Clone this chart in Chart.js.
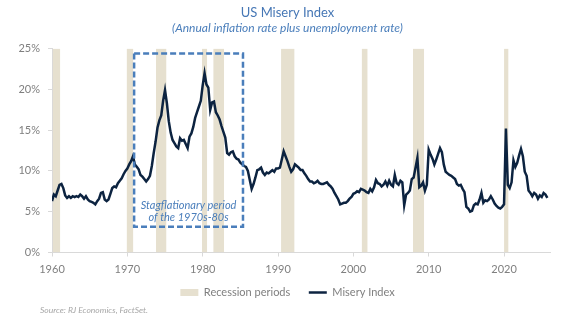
<!DOCTYPE html>
<html>
<head>
<meta charset="utf-8">
<script src="https://cdn.jsdelivr.net/npm/chart.js@4.4.1/dist/chart.umd.min.js"></script>
<style>
  html, body { margin: 0; padding: 0; background: #ffffff; }
  #wrap { width: 575px; height: 322px; position: relative; }
</style>
</head>
<body>
<div id="wrap"><canvas id="c" width="575" height="322"></canvas></div>
<script>
// ---------------- DATA ----------------
const startYear = 1960;            // first quarter of the series
const periodsPerYear = 4;          // quarterly observations

const misery1960s = [6.3,7.1,6.9,7.6, 8.3,8.4,7.9,7.0, 6.7,6.9,6.7,6.9, 6.8,6.9,6.8,7.1, 6.9,6.6,6.9,6.5,
                     6.3,6.2,6.1,5.9, 6.3,6.6,7.3,7.4, 6.5,6.3,6.5,7.2, 7.9,8.1,8.0,8.5, 8.8,9.1,9.6,10.0];
const misery1970s = [10.3,10.8,11.2,11.8, 10.8,10.5,10.2,9.5, 9.3,9.0,8.7,9.0, 9.4,10.6,12.2,13.6, 15.3,16.2,16.8,18.6,
                     19.9,18.3,16.1,14.7, 13.8,13.4,13.0,12.8, 14.0,13.7,13.8,13.3, 12.8,14.2,14.6,15.4, 16.5,17.2,17.9,18.6];
const misery1980s = [20.5,22.0,20.6,20.2, 17.5,18.4,18.5,17.2, 16.8,16.3,15.5,14.8, 14.1,12.2,12.0,12.3, 12.4,11.8,11.5,11.4,
                     11.0,10.8,10.6,10.5, 10.0,8.9,7.8,8.4, 9.2,10.1,10.2,10.4, 9.8,9.5,9.8,9.7, 9.9,10.1,9.9,10.3];
const misery1990s = [10.3,10.4,11.4,12.4, 11.8,11.2,10.5,9.9, 10.2,10.8,10.6,10.4, 10.1,10.1,9.7,9.4, 9.0,8.7,8.7,8.5,
                     8.6,8.8,8.5,8.4, 8.4,8.5,8.6,8.3, 8.1,7.8,7.3,6.9, 6.5,5.9,6.0,6.1, 6.1,6.3,6.6,6.8];
const misery2000s = [7.2,7.3,7.5,7.4, 7.8,7.7,7.6,7.4, 7.3,7.8,7.5,8.0, 8.9,8.5,8.4,8.1, 8.3,8.7,8.2,8.8,
                     8.3,8.1,9.5,8.5, 8.3,8.8,8.6,5.8, 7.1,7.3,7.6,9.0, 9.2,10.4,11.6,8.0, 8.2,8.6,7.6,8.3];
const misery2010s = [12.6,12.0,11.5,10.8, 11.4,12.1,12.8,12.3, 10.8,9.9,9.7,9.5, 9.4,9.2,9.0,8.4, 8.2,8.3,7.8,7.4,
                     5.6,5.4,5.0,5.1, 5.8,6.0,5.9,6.5, 7.3,6.1,6.4,6.3, 6.5,6.9,6.5,6.0, 5.7,5.5,5.4,5.6];
const misery2020s = [5.9,15.2,8.3,7.9, 8.6,11.3,10.5,11.0, 11.9,12.7,11.8,9.9, 9.4,7.6,7.3,6.9, 7.3,7.1,6.6,7.0,
                     6.8,7.3,7.1,6.7];

const recessionStart = [1960.1, 1969.9, 1973.8, 1979.9, 1981.4, 1990.4, 2001.1, 2007.9, 2020.0];
const recessionEnd   = [1961.1, 1970.8, 1975.2, 1980.6, 1982.85, 1992.2, 2001.9, 2009.4, 2020.6];

const xTickYears = [1960, 1970, 1980, 1990, 2000, 2010, 2020];
const yTickValues = [0, 5, 10, 15, 20, 25];

const stagflationBox = { fromYear: 1970.9, toYear: 1985.35, low: 3.17, high: 24.4 };
const stagflationText = ['Stagflationary period', 'of the 1970s-80s'];

// ---------------- BUILD ----------------
const miseryValues = [].concat(misery1960s, misery1970s, misery1980s, misery1990s, misery2000s, misery2010s, misery2020s);
const miseryPoints = miseryValues.map((v, i) => ({ x: startYear + i / periodsPerYear, y: v }));

const recessionTop = yTickValues[yTickValues.length - 1];
const recessionPoints = [];
recessionStart.forEach((s, i) => {
  recessionPoints.push({ x: s, y: recessionTop });
  recessionPoints.push({ x: recessionEnd[i], y: recessionTop });
  recessionPoints.push({ x: recessionEnd[i], y: null });
});

const FONT = 'Lato, "Open Sans", sans-serif';
const GREY = '#7f7f7f';
const AXIS = '#d9d9d9';
const BLUE = '#4a7ebb';

const boxPlugin = {
  id: 'stagBox',
  afterDatasetsDraw(chart) {
    const { ctx, scales: { x, y } } = chart;
    const x0 = x.getPixelForValue(stagflationBox.fromYear);
    const x1 = x.getPixelForValue(stagflationBox.toYear);
    const y0 = y.getPixelForValue(stagflationBox.high);
    const y1 = y.getPixelForValue(stagflationBox.low);
    ctx.save();
    ctx.strokeStyle = BLUE;
    ctx.lineWidth = 2.5;
    ctx.setLineDash([6, 3]);
    ctx.strokeRect(x0, y0, x1 - x0, y1 - y0);
    ctx.setLineDash([]);
    ctx.fillStyle = BLUE;
    ctx.font = 'italic 11px ' + FONT;
    ctx.textAlign = 'center';
    ctx.textBaseline = 'middle';
    const cx = (x0 + x1) / 2;
    ctx.fillText(stagflationText[0], cx, y1 - 21.5);
    ctx.fillText(stagflationText[1], cx, y1 - 9);
    ctx.restore();
  }
};

const sourcePlugin = {
  id: 'sourceNote',
  afterDraw(chart) {
    const { ctx } = chart;
    ctx.save();
    ctx.fillStyle = '#a6a6a6';
    ctx.font = 'italic 8.5px ' + FONT;
    ctx.textAlign = 'left';
    ctx.textBaseline = 'middle';
    ctx.fillText('Source: RJ Economics, FactSet.', 40, 310);
    ctx.restore();
  }
};

// lift the legend closer to the axis (the legend's own padding also sets the gap between items)
const legendLift = {
  id: 'legendLift',
  afterLayout(chart) {
    const lg = chart.legend;
    if (lg) { lg.top -= 14; lg.bottom -= 14; }
  }
};

new Chart(document.getElementById('c'), {
  type: 'line',
  data: {
    datasets: [
      {
        label: 'Recession periods',
        data: recessionPoints,
        backgroundColor: '#e6e0cf',
        borderColor: '#e6e0cf',
        borderWidth: 0,
        pointRadius: 0,
        pointStyle: 'rect',
        fill: 'origin',
        spanGaps: false,
        order: 2
      },
      {
        label: 'Misery Index',
        data: miseryPoints,
        borderColor: '#0c2340',
        backgroundColor: '#0c2340',
        borderWidth: 2.5,
        pointRadius: 0,
        pointStyle: 'line',
        tension: 0,
        fill: false,
        order: 1
      }
    ]
  },
  options: {
    responsive: false,
    animation: false,
    devicePixelRatio: 1,
    layout: { padding: { left: 0, right: 0, top: 0, bottom: 0 } },
    plugins: {
      title: {
        display: true,
        text: 'US Misery Index',
        color: '#4677b5',
        font: { family: FONT, size: 13, weight: 'normal' },
        padding: { top: 5, bottom: 0 }
      },
      subtitle: {
        display: true,
        text: '(Annual inflation rate plus unemployment rate)',
        color: BLUE,
        font: { family: FONT, size: 12, style: 'italic', lineHeight: 1.0 },
        padding: { top: 1.5, bottom: 14.5 }
      },
      legend: {
        display: true,
        position: 'bottom',
        labels: {
          usePointStyle: true,
          pointStyleWidth: 18,
          boxHeight: 7,
          padding: 18.5,
          color: GREY,
          font: { family: FONT, size: 11 },
          sort: (a, b) => a.datasetIndex - b.datasetIndex
        }
      },
      tooltip: { enabled: false }
    },
    scales: {
      x: {
        type: 'linear',
        min: 1960,
        max: 2026.1,
        grid: { display: true, drawOnChartArea: false, drawTicks: true, tickLength: 4, color: AXIS },
        border: { display: true, color: AXIS },
        afterBuildTicks: (s) => { s.ticks = xTickYears.map(v => ({ value: v })); },
        afterFit: (s) => { s.height = 30; },
        ticks: {
          color: GREY,
          font: { family: FONT, size: 11 },
          padding: 6,
          maxRotation: 0,
          callback: (v) => String(v)
        }
      },
      y: {
        min: 0,
        max: 25,
        grid: { display: true, drawOnChartArea: false, drawTicks: true, tickLength: 4, color: AXIS },
        border: { display: true, color: AXIS },
        afterBuildTicks: (s) => { s.ticks = yTickValues.map(v => ({ value: v })); },
        afterFit: (s) => { s.width = 52; },
        ticks: {
          color: GREY,
          font: { family: FONT, size: 11 },
          padding: 8,
          callback: (v) => v + '%'
        }
      },
      yPad: {
        type: 'linear',
        position: 'right',
        display: true,
        afterFit: (s) => { s.width = 25; },
        grid: { display: false },
        border: { display: false },
        ticks: { display: false }
      }
    }
  },
  plugins: [boxPlugin, sourcePlugin, legendLift]
});
</script>
</body>
</html>
